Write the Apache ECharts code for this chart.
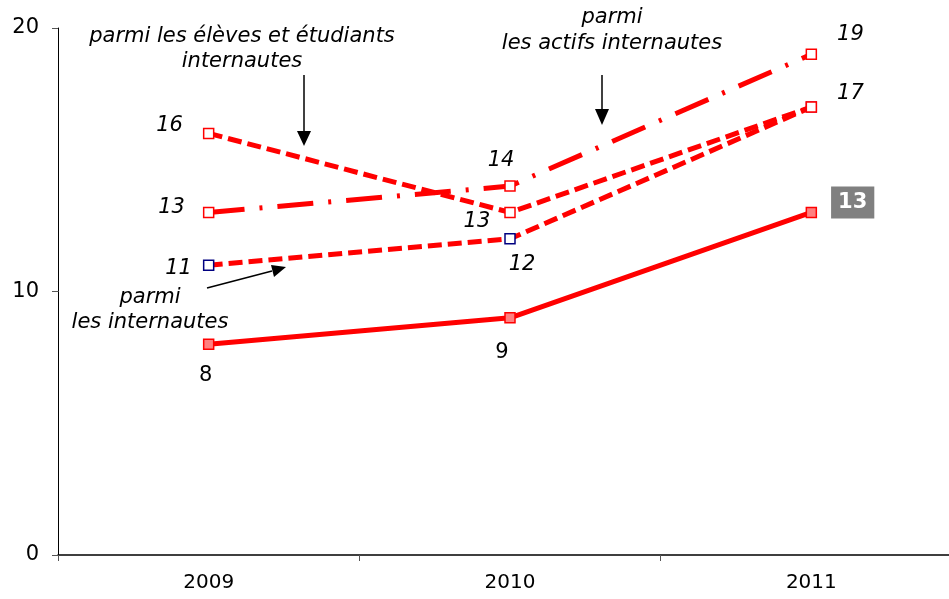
<!DOCTYPE html>
<html>
<head>
<meta charset="utf-8">
<script src="https://cdn.jsdelivr.net/npm/echarts@6/dist/echarts.min.js"></script>
<style>
  html, body { margin: 0; padding: 0; background: #fff; }
  #chart { width: 949px; height: 599px; }
</style>
</head>
<body>
<div id="chart"></div>
<script>
// Categories and series values
const years = ['2009', '2010', '2011'];
const ensemble = [8, 9, 13];          // solid line
const internautes = [11, 12, 17];     // dashed, "parmi les internautes"
const eleves = [16, 13, 17];          // dashed, "parmi les élèves et étudiants internautes"
const actifs = [13, 14, 19];          // dash-dot, "parmi les actifs internautes"
const yTicks = { min: 0, max: 20, interval: 10 };

const FONT = 'DejaVu Sans, Verdana, sans-serif';
const RED = '#ff0000';
const NOTE_FONT = 'italic 21px ' + FONT;

const italicLabel = {
  show: true, fontFamily: FONT, fontSize: 21, fontStyle: 'italic', color: '#000'
};

function withLabels(values, labels, marker) {
  return values.map((v, i) => {
    const item = { value: v };
    if (labels[i]) item.label = Object.assign({}, italicLabel, labels[i]);
    else item.label = { show: false };
    if (marker && marker[i]) item.itemStyle = marker[i];
    return item;
  });
}

function note(text, x, y) {
  return { type: 'text', x: x, y: y, z: 10,
    style: { text: text, font: NOTE_FONT, fill: '#000', align: 'center', verticalAlign: 'middle' } };
}

const chart = echarts.init(document.getElementById('chart'), null, { renderer: 'canvas' });

const option = {
  animation: false,
  backgroundColor: '#fff',
  // the last category band runs past the right edge of the canvas
  grid: { left: 58, width: 904, top: 28, bottom: 44, outerBoundsMode: 'none', containLabel: false },
  xAxis: {
    type: 'category',
    data: years,
    boundaryGap: true,
    axisLine: { lineStyle: { color: '#000', width: 1.5 } },
    axisTick: { show: true, length: 6, lineStyle: { color: '#555' } },
    axisLabel: { fontFamily: FONT, fontSize: 20, color: '#000', margin: 18 }
  },
  yAxis: {
    type: 'value',
    min: yTicks.min, max: yTicks.max, interval: yTicks.interval,
    axisLine: { show: true, lineStyle: { color: '#000', width: 1 } },
    axisTick: { show: true, length: 6, lineStyle: { color: '#555' } },
    splitLine: { show: false },
    axisLabel: { fontFamily: FONT, fontSize: 21, color: '#000', margin: 19 }
  },
  series: [
    {
      name: 'ensemble',
      type: 'line',
      z: 4,
      symbol: 'rect', symbolSize: 10,
      itemStyle: { color: '#ff8080', borderColor: RED, borderWidth: 1.5 },
      lineStyle: { color: RED, width: 5 },
      data: withLabels(ensemble, [
        { position: 'bottom', distance: 15, fontStyle: 'normal', offset: [-3, 0] },
        { position: 'bottom', distance: 18, offset: [-8, 0], fontStyle: 'normal' },
        { position: 'right', distance: 14, offset: [0, -10], fontStyle: 'normal', fontWeight: 'bold',
          color: '#fff', backgroundColor: '#808080', padding: [6, 7, 5, 7] }
      ])
    },
    {
      name: 'internautes',
      type: 'line',
      z: 3,
      symbol: 'rect', symbolSize: 10,
      itemStyle: { color: '#fff', borderColor: RED, borderWidth: 1.5 },
      lineStyle: { color: RED, width: 5, type: [14, 6] },
      data: withLabels(internautes, [
        { position: 'left', distance: 11, offset: [0, 3] },
        { position: 'bottom', distance: 9, offset: [12, 0] },
        { position: 'right', distance: 20, offset: [0, -14] }
      ], [
        { borderColor: '#000080' },
        { borderColor: '#000080' },
        { borderColor: '#c00040' }
      ])
    },
    {
      name: 'eleves',
      type: 'line',
      z: 3,
      symbol: 'rect', symbolSize: 10,
      itemStyle: { color: '#fff', borderColor: RED, borderWidth: 1.5 },
      lineStyle: { color: RED, width: 5, type: [14, 6] },
      data: withLabels(eleves, [
        { position: 'left', distance: 20, offset: [0, -8] },
        { position: 'left', distance: 14, offset: [0, 9] },
        null
      ])
    },
    {
      name: 'actifs',
      type: 'line',
      z: 3,
      symbol: 'rect', symbolSize: 10,
      itemStyle: { color: '#fff', borderColor: RED, borderWidth: 1.5 },
      lineStyle: { color: RED, width: 5, type: [36, 15, 3, 15] },
      data: withLabels(actifs, [
        { position: 'left', distance: 18, offset: [0, -5] },
        { position: 'top', distance: 9, offset: [-9, 0] },
        { position: 'right', distance: 20, offset: [0, -20] }
      ])
    }
  ],
  graphic: [
    // annotation texts
    note('parmi les élèves et étudiants', 242, 37),
    note('internautes', 242, 62),
    note('parmi', 612, 18),
    note('les actifs internautes', 612, 44),
    note('parmi', 150, 298),
    note('les internautes', 150, 323),
    // arrows
    { type: 'line', z: 10, shape: { x1: 304, y1: 75, x2: 304, y2: 132 }, style: { stroke: '#000', lineWidth: 1.5 } },
    { type: 'polygon', z: 10, shape: { points: [[297, 131], [311, 131], [304, 146]] }, style: { fill: '#000' } },
    { type: 'line', z: 10, shape: { x1: 602, y1: 75, x2: 602, y2: 110 }, style: { stroke: '#000', lineWidth: 1.5 } },
    { type: 'polygon', z: 10, shape: { points: [[595, 109], [609, 109], [602, 125]] }, style: { fill: '#000' } },
    { type: 'line', z: 10, shape: { x1: 207, y1: 288, x2: 272, y2: 271 }, style: { stroke: '#000', lineWidth: 1.5 } },
    { type: 'polygon', z: 10, shape: { points: [[271, 265], [286, 267], [274, 277]] }, style: { fill: '#000' } }
  ]
};

chart.setOption(option);
</script>
</body>
</html>
